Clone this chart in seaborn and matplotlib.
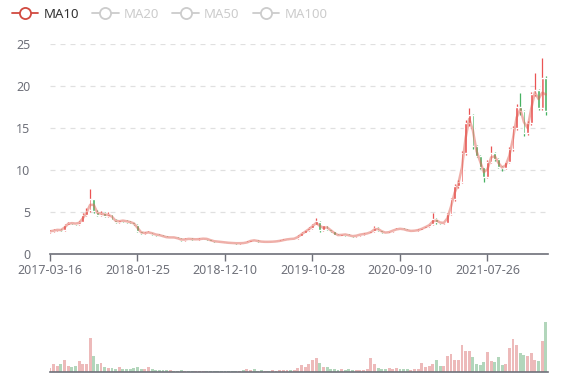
import numpy as np
import pandas as pd
import matplotlib
matplotlib.use("Agg")
import matplotlib.pyplot as plt
from matplotlib.lines import Line2D
import seaborn as sns

# one candle = ~9 trading days
closes = [2.7, 2.85, 2.9, 2.8, 3.5, 3.7, 3.65, 3.6, 3.8, 4.7,
          5.1, 6.6, 5.1, 4.7, 4.9, 4.5, 4.8, 4.1, 3.8, 4.0,
          3.95, 3.85, 3.75, 3.55, 2.7, 2.45, 2.55, 2.6, 2.35, 2.3,
          2.2, 2.05, 1.95, 2.0, 1.95, 1.8, 1.65, 1.8, 1.8, 1.75,
          1.75, 1.8, 1.85, 1.75, 1.55, 1.5, 1.45, 1.4, 1.35, 1.32,
          1.3, 1.27, 1.3, 1.3, 1.45, 1.65, 1.6, 1.5, 1.45, 1.45,
          1.45, 1.48, 1.52, 1.6, 1.7, 1.78, 1.8, 1.85, 2.2, 2.5,
          2.8, 3.1, 3.5, 3.9, 2.8, 3.4, 2.95, 2.7, 2.3, 2.2,
          2.35, 2.3, 2.15, 2.1, 2.25, 2.35, 2.4, 2.5, 2.7, 3.15,
          2.8, 2.6, 2.5, 2.7, 2.85, 3.0, 3.0, 2.9, 2.75, 2.75,
          2.8, 2.9, 3.1, 3.3, 3.55, 4.2, 3.8, 3.7, 3.7, 4.8,
          6.5, 8.1, 8.6, 12.0, 15.6, 16.6, 12.8, 11.7, 10.3, 9.2,
          11.0, 12.0, 11.3, 10.4, 10.2, 10.9, 12.5, 15.0, 17.5, 17.0,
          14.4, 15.6, 19.0, 19.5, 17.4, 21.0, 17.0]

opens = [2.6, 2.7, 2.85, 2.9, 2.8, 3.5, 3.75, 3.65, 3.6, 3.85,
         4.7, 5.2, 6.5, 5.0, 4.7, 4.9, 4.5, 4.75, 4.1, 3.8,
         4.0, 3.95, 3.85, 3.75, 3.5, 2.7, 2.45, 2.55, 2.6, 2.35,
         2.3, 2.2, 2.05, 1.95, 2.0, 1.95, 1.8, 1.65, 1.85, 1.8,
         1.7, 1.75, 1.8, 1.85, 1.75, 1.55, 1.5, 1.45, 1.4, 1.35,
         1.32, 1.3, 1.27, 1.32, 1.3, 1.45, 1.68, 1.6, 1.5, 1.43,
         1.47, 1.45, 1.48, 1.52, 1.6, 1.7, 1.82, 1.8, 1.85, 2.2,
         2.5, 2.8, 3.1, 3.5, 3.8, 2.8, 3.4, 2.95, 2.7, 2.3,
         2.2, 2.35, 2.3, 2.15, 2.1, 2.25, 2.35, 2.42, 2.5, 2.7,
         3.15, 2.8, 2.6, 2.5, 2.7, 2.85, 3.05, 3.0, 2.9, 2.72,
         2.75, 2.8, 2.9, 3.1, 3.3, 3.55, 4.2, 3.8, 3.65, 3.7,
         4.8, 6.5, 8.1, 8.6, 12.0, 15.6, 16.6, 12.8, 11.7, 10.3,
         9.2, 11.0, 12.0, 11.3, 10.4, 10.2, 10.9, 12.5, 15.0, 17.5,
         17.0, 14.4, 15.6, 19.0, 19.5, 17.4, 21.0]

highs = [2.8, 2.95, 3.0, 2.95, 3.6, 3.85, 3.85, 3.75, 3.95, 4.9,
         5.5, 7.7, 6.6, 5.2, 5.1, 5.0, 5.0, 4.8, 4.2, 4.1,
         4.1, 4.0, 3.9, 3.8, 3.55, 2.75, 2.65, 2.7, 2.65, 2.4,
         2.35, 2.25, 2.1, 2.05, 2.05, 2.0, 1.85, 1.85, 1.9, 1.85,
         1.8, 1.85, 1.9, 1.9, 1.78, 1.6, 1.52, 1.48, 1.42, 1.38,
         1.35, 1.33, 1.33, 1.35, 1.5, 1.7, 1.72, 1.63, 1.52, 1.48,
         1.5, 1.52, 1.55, 1.63, 1.73, 1.8, 1.86, 1.88, 2.25, 2.6,
         2.9, 3.2, 3.6, 4.3, 3.9, 3.5, 3.45, 3.0, 2.75, 2.35,
         2.4, 2.4, 2.35, 2.2, 2.3, 2.4, 2.45, 2.55, 2.75, 3.3,
         3.2, 2.85, 2.65, 2.75, 2.9, 3.05, 3.1, 3.05, 2.92, 2.8,
         2.85, 2.95, 3.15, 3.35, 3.6, 4.85, 4.3, 3.85, 3.75, 4.9,
         6.7, 8.3, 8.8, 12.3, 16.0, 17.4, 16.7, 13.0, 11.8, 10.4,
         11.2, 12.8, 12.2, 11.4, 10.5, 11.0, 12.7, 15.2, 17.8, 19.2,
         17.1, 15.8, 19.3, 21.5, 19.6, 23.3, 21.2]

lows = [2.5, 2.6, 2.75, 2.7, 2.75, 3.45, 3.55, 3.5, 3.5, 3.8,
        4.5, 5.0, 4.9, 4.5, 4.5, 4.35, 4.4, 4.0, 3.65, 3.7,
        3.85, 3.75, 3.65, 3.45, 2.6, 2.35, 2.4, 2.45, 2.3, 2.2,
        2.15, 2.0, 1.9, 1.9, 1.9, 1.75, 1.6, 1.6, 1.75, 1.7,
        1.65, 1.7, 1.75, 1.7, 1.5, 1.45, 1.42, 1.37, 1.32, 1.29,
        1.27, 1.24, 1.25, 1.27, 1.28, 1.42, 1.57, 1.47, 1.42, 1.4,
        1.42, 1.43, 1.46, 1.5, 1.57, 1.67, 1.76, 1.77, 1.82, 2.15,
        2.45, 2.75, 3.0, 3.4, 2.65, 2.7, 2.85, 2.6, 2.25, 2.1,
        2.15, 2.2, 2.1, 2.05, 2.05, 2.2, 2.3, 2.38, 2.45, 2.65,
        2.7, 2.55, 2.45, 2.45, 2.65, 2.8, 2.95, 2.85, 2.7, 2.68,
        2.7, 2.75, 2.85, 3.05, 3.25, 3.5, 3.6, 3.6, 3.55, 3.65,
        4.7, 6.3, 7.9, 8.4, 11.8, 15.2, 12.5, 11.5, 10.1, 8.6,
        9.0, 10.8, 11.1, 10.2, 9.9, 10.1, 10.8, 12.3, 14.8, 16.6,
        14.1, 14.2, 15.4, 18.8, 17.1, 17.2, 16.5]

volumes = [4, 8, 6, 8, 12, 6, 5, 6, 11, 8,
           8, 34, 16, 8, 9, 5, 4, 4, 3, 5,
           3, 3, 3, 4, 5, 3, 3, 5, 3, 2,
           2, 2, 2, 2, 1.5, 1.5, 2, 1.5, 1.2, 1.2,
           1.5, 1.2, 1.2, 1.0, 1.2, 1.5, 1.0, 1.2, 1.0, 1.2,
           1.0, 1.2, 1.5, 2.5, 3, 2.5, 3, 1.5, 2, 1.5,
           1.5, 2, 1.5, 2, 2, 2.5, 2, 2.5, 4, 7,
           5, 8, 12, 14, 9, 5, 5, 3, 3, 2.5,
           3, 2, 3, 2, 2.5, 2, 2, 3, 14, 8,
           4, 3, 3, 4, 3, 4, 3, 3, 3, 2.5,
           3, 3, 9, 5, 6, 8, 12, 6, 6, 16,
           18, 12, 12, 27, 21, 21, 15, 8, 7, 10,
           20, 11, 10, 15, 7, 8, 24, 33, 27, 19,
           17, 16, 19, 12, 11, 31, 50]

tick_pos = [0, 24, 48, 72, 96, 120]
tick_labels = ["2017-03-16", "2018-01-25", "2018-12-10",
               "2019-10-28", "2020-09-10", "2021-07-26"]
legend_names = ["MA10", "MA20", "MA50", "MA100"]

UP, DOWN = "#eb5454", "#47b262"
AXIS = "#6e7079"

df = pd.DataFrame({"open": opens, "close": closes, "high": highs,
                   "low": lows, "vol": volumes})
df["idx"] = np.arange(len(df))
df["dir"] = np.where(df["close"] >= df["open"], "up", "down")
df["ma10"] = df["close"].rolling(2, min_periods=1).mean()

sns.set_theme(style="white")
plt.rcParams["font.family"] = ["Noto Sans", "DejaVu Sans"]

fig = plt.figure(figsize=(5.77, 3.8), dpi=100)
ax = fig.add_axes([50 / 577, 1 - 254 / 380, 498 / 577, 210 / 380])
axv = fig.add_axes([50 / 577, 1 - 372 / 380, 498 / 577, 72 / 380])

# candles
col = df["dir"].map({"up": UP, "down": DOWN})
ax.vlines(df["idx"], df["low"], df["high"], colors=col, lw=0.9, zorder=2)
body = (df["close"] - df["open"]).abs().clip(lower=0.08)
ax.bar(df["idx"], body, bottom=df[["open", "close"]].min(axis=1),
       width=0.75, color=col, zorder=3)

sns.lineplot(data=df, x="idx", y="ma10", ax=ax, color="#e06356",
             alpha=0.5, lw=1.8, zorder=4)

ax.set_xlim(0, 136.6)
ax.set_ylim(0, 25)
ax.set_yticks([0, 5, 10, 15, 20, 25])
ax.grid(axis="y", color="#e0e0e0", ls=(0, (4, 4)), lw=0.9)
ax.set_xticks(tick_pos)
ax.set_xticklabels(tick_labels)
ax.tick_params(axis="x", bottom=True, length=5, width=1, color=AXIS,
               labelsize=9, labelcolor=AXIS, pad=2)
ax.tick_params(axis="y", left=False, labelsize=9, labelcolor=AXIS, pad=8)
for s in ["top", "right", "left"]:
    ax.spines[s].set_visible(False)
ax.spines["bottom"].set_color(AXIS)
ax.spines["bottom"].set_linewidth(1.2)
ax.set_xlabel("")
ax.set_ylabel("")

# volume
sns.barplot(data=df, x="idx", y="vol", hue="dir", ax=axv, native_scale=True,
            palette={"up": UP, "down": DOWN}, dodge=False, width=0.8,
            alpha=0.45, legend=False, linewidth=0)
axv.set_xlim(0, 136.6)
axv.set_ylim(0, 72)
axv.set_xticks([])
axv.set_yticks([])
for s in ["top", "right", "left"]:
    axv.spines[s].set_visible(False)
axv.spines["bottom"].set_color(AXIS)
axv.spines["bottom"].set_linewidth(1.2)
axv.set_xlabel("")
axv.set_ylabel("")

handles = []
for i, name in enumerate(legend_names):
    c = "#d14a40" if i == 0 else "#cccccc"
    handles.append(Line2D([0], [0], color=c, lw=1.3, marker="o", markersize=8,
                          markerfacecolor="white", markeredgecolor=c,
                          markeredgewidth=1.3))
leg = fig.legend(handles, legend_names, loc="upper left",
                 bbox_to_anchor=(0.0, 1.01), ncol=4, frameon=False,
                 fontsize=9.5, handlelength=2.0, handletextpad=0.4,
                 columnspacing=1.0)
for i, t in enumerate(leg.get_texts()):
    t.set_color("#333333" if i == 0 else "#cccccc")

fig.savefig("out.png", dpi=100)
